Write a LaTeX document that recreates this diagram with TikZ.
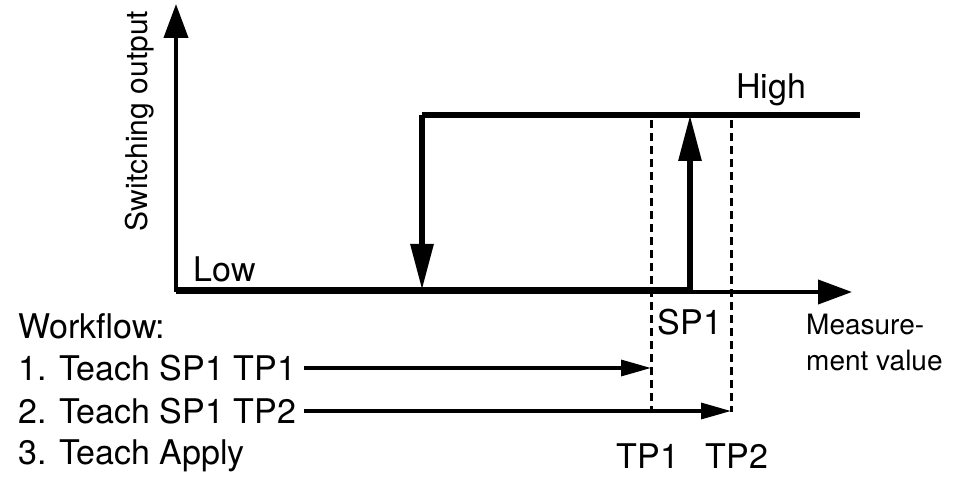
\documentclass[tikz,border=0pt]{standalone}
\usepackage{fontspec}
\setmainfont{TeX Gyre Heros}
\usetikzlibrary{arrows.meta}
\begin{document}
\begin{tikzpicture}[x=1pt,y=-1pt,
  thick line/.style={line width=6pt},
  axis/.style={line width=4pt,-{Triangle[length=34pt,width=24pt]}},
  harrow/.style={line width=3.2pt,-{Triangle[length=30pt,width=16pt]}},
  dash line/.style={line width=3pt,dash pattern=on 8pt off 5pt},
  lbl/.style={font=\fontsize{34}{40}\selectfont,inner sep=0pt}]
\useasboundingbox (0,0) rectangle (954,489);
\coordinate (o) at (176,292);
\coordinate (yt) at (176,4);
\coordinate (xt) at (852,292);
\draw[axis] (o) -- (yt);
\draw[axis] (o) -- (xt);
\coordinate (l1) at (176,290);
\coordinate (l2) at (690,290);
\coordinate (u1) at (690,115);
\coordinate (h1) at (422,115);
\coordinate (h2) at (860,115);
\coordinate (d2) at (422,290);
\draw[thick line] (l1) -- (l2);
\draw[thick line] (h1) -- (h2);
\draw[thick line,-{Triangle[length=46pt,width=22pt]}] (l2) -- (u1);
\draw[thick line,-{Triangle[length=46pt,width=22pt]}] (h1) -- (d2);
\coordinate (a1) at (651,120); \coordinate (a2) at (651,412);
\coordinate (b1) at (731,120); \coordinate (b2) at (731,412);
\draw[dash line] (a1) -- (a2);
\draw[dash line] (b1) -- (b2);
\node[lbl,rotate=90,font=\fontsize{30}{36}\selectfont] (so) at (140,121) {Switching output};
\node[lbl] (hi) at (771,90) {High};
\node[lbl] (lo) at (225,269) {Low};
\node[lbl] (sp) at (690,322) {SP1};
\node[lbl,align=left,anchor=west,font=\fontsize{28}{36}\selectfont] (mv) at (806,343) {\hspace*{0pt}Measure-\\\hspace*{0pt}ment value};
\node[lbl,anchor=west] (w0) at (18,326) {Workflow:};
\node[lbl,anchor=west] (w1) at (18,368) {1. Teach SP1 TP1};
\node[lbl,anchor=west] (w2) at (18,411) {2. Teach SP1 TP2};
\node[lbl,anchor=west] (w3) at (18,456) {3. Teach Apply};
\node[lbl] (tp1) at (648,456) {TP1};
\node[lbl] (tp2) at (737,456) {TP2};
\draw[harrow] (w1.east) ++(8,0) -- (a1 |- w1.east);
\draw[harrow] (w2.east) ++(8,0) -- (b1 |- w2.east);
\end{tikzpicture}
\end{document}
